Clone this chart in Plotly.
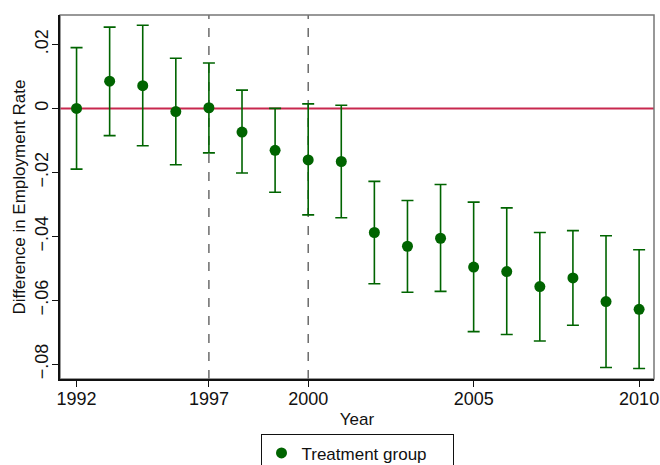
import plotly.graph_objects as go

years = [1992, 1993, 1994, 1995, 1997, 1998, 1999, 2000, 2001, 2002,
         2003, 2004, 2005, 2006, 2007, 2008, 2009, 2010]
estimate = [0.0000, 0.0085, 0.0071, -0.0010, 0.0002, -0.0074, -0.0131, -0.0161, -0.0166, -0.0388,
            -0.0431, -0.0406, -0.0496, -0.0510, -0.0557, -0.0530, -0.0604, -0.0628]
ci_high = [0.0190, 0.0254, 0.0260, 0.0157, 0.0142, 0.0057, 0.0000, 0.0014, 0.0010, -0.0228,
           -0.0288, -0.0238, -0.0293, -0.0311, -0.0388, -0.0382, -0.0398, -0.0442]
ci_low = [-0.0190, -0.0085, -0.0117, -0.0176, -0.0139, -0.0202, -0.0262, -0.0333, -0.0342, -0.0548,
          -0.0575, -0.0572, -0.0698, -0.0707, -0.0727, -0.0678, -0.0810, -0.0813]
x_tick_labels = [1992, 1997, 2000, 2005, 2010]
vline_years = [1997, 2000]
y_tick_vals = [0.02, 0.0, -0.02, -0.04, -0.06, -0.08]
y_tick_text = [".02", "0", "\u2212.02", "\u2212.04", "\u2212.06", "\u2212.08"]

idx = list(range(len(years)))
err_plus = [h - e for h, e in zip(ci_high, estimate)]
err_minus = [e - l for e, l in zip(estimate, ci_low)]

GREEN = "#006400"
FONT = "Liberation Sans, Arial, sans-serif"

fig = go.Figure()
fig.add_trace(go.Scatter(
    x=idx, y=estimate, mode="markers", name="Treatment group",
    marker=dict(color=GREEN, size=11),
    error_y=dict(type="data", symmetric=False, array=err_plus, arrayminus=err_minus,
                 color=GREEN, thickness=1.6, width=6),
))

fig.add_hline(y=0, line=dict(color="#c8284e", width=2), layer="below")
for vy in vline_years:
    fig.add_vline(x=years.index(vy), line=dict(color="#555555", width=1.3, dash="dash"), layer="below")

fig.add_shape(type="rect", xref="paper", yref="paper", x0=0, y0=0, x1=1, y1=1,
              line=dict(color="#777777", width=1.5), layer="below")

fig.update_layout(
    width=660, height=465,
    margin=dict(l=60, r=6, t=15, b=86, autoexpand=False),
    plot_bgcolor="white", paper_bgcolor="white",
    font=dict(family=FONT, size=17, color="#111111"),
    showlegend=True,
    legend=dict(orientation="h", x=0.5, xanchor="center", y=-0.152, yanchor="top",
                bordercolor="#111111", borderwidth=1, font=dict(size=17),
                entrywidth=146, entrywidthmode="pixels"),
)
fig.update_xaxes(
    range=[-0.5, 17.45], showgrid=False, zeroline=False,
    tickmode="array", tickvals=[years.index(y) for y in x_tick_labels],
    ticktext=[str(y) for y in x_tick_labels],
    ticks="outside", ticklen=6, tickcolor="#111111", tickwidth=1.2,
    showline=True, linecolor="#111111", linewidth=1.8,
    ticklabelstandoff=-4,
    title=dict(text="Year", standoff=6, font=dict(size=17)),
    tickfont=dict(size=18),
)
fig.update_yaxes(
    range=[-0.0846, 0.0292], showgrid=False, zeroline=False,
    tickmode="array", tickvals=y_tick_vals, ticktext=y_tick_text, tickangle=-90,
    ticks="outside", ticklen=6, tickcolor="#111111", tickwidth=1.2,
    showline=True, linecolor="#111111", linewidth=1.8,
    ticklabelstandoff=-3,
    title=dict(text="Difference in Employment Rate", standoff=2, font=dict(size=17)),
    tickfont=dict(size=18),
)

fig.write_html("out.html")
